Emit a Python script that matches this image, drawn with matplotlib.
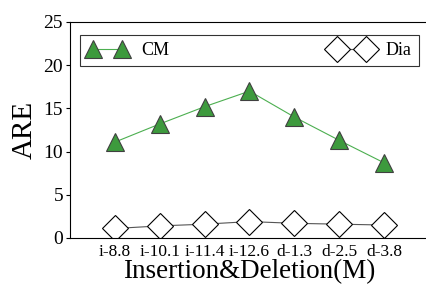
import matplotlib
matplotlib.use("Agg")
import matplotlib.pyplot as plt

categories = ["i-8.8", "i-10.1", "i-11.4", "i-12.6", "d-1.3", "d-2.5", "d-3.8"]
cm_values = [11.1, 13.2, 15.2, 17.0, 14.0, 11.3, 8.7]
dia_values = [1.1, 1.4, 1.6, 1.9, 1.7, 1.6, 1.5]

plt.rcParams['font.family'] = ['Liberation Serif', 'DejaVu Serif']
plt.rcParams['mathtext.fontset'] = 'stix'

fig = plt.figure(figsize=(4.27, 2.86), dpi=100)
ax = fig.add_axes([70/427, 48/286, 359/427, 216/286])

x = list(range(len(categories)))
ax.plot(x, cm_values, color='#4caf50', lw=0.8, marker='^', ms=13,
        markerfacecolor='#3d9a3d', markeredgecolor='#404040', markeredgewidth=0.8, label='CM')
ax.plot(x, dia_values, color='#555555', lw=0.8, marker='D', ms=13,
        markerfacecolor='white', markeredgecolor='black', markeredgewidth=0.8, label='Dia')

ax.set_xlim(-1, 7)
ax.set_ylim(0, 25)
ax.set_yticks([0, 5, 10, 15, 20, 25])
ax.set_xticks(x)
ax.set_xticklabels(categories, fontsize=12.5)
ax.tick_params(axis='y', labelsize=14, direction='out', length=3, pad=2)
ax.tick_params(axis='x', direction='in', length=0, pad=4)
ax.spines['right'].set_visible(False)
ax.set_xlabel('Insertion&Deletion(M)', fontsize=19.5, labelpad=0)
ax.set_ylabel('ARE', fontsize=21, labelpad=4)

leg = ax.legend(loc='lower left', bbox_to_anchor=(0.028, 0.796, 0.944, 0.158), mode='expand',
                ncol=2, numpoints=2, fontsize=13, frameon=True, fancybox=False,
                edgecolor='black', borderaxespad=0, handlelength=2.2, handletextpad=0.8)
leg.get_frame().set_linewidth(0.8)

fig.savefig('out.png', dpi=100)
